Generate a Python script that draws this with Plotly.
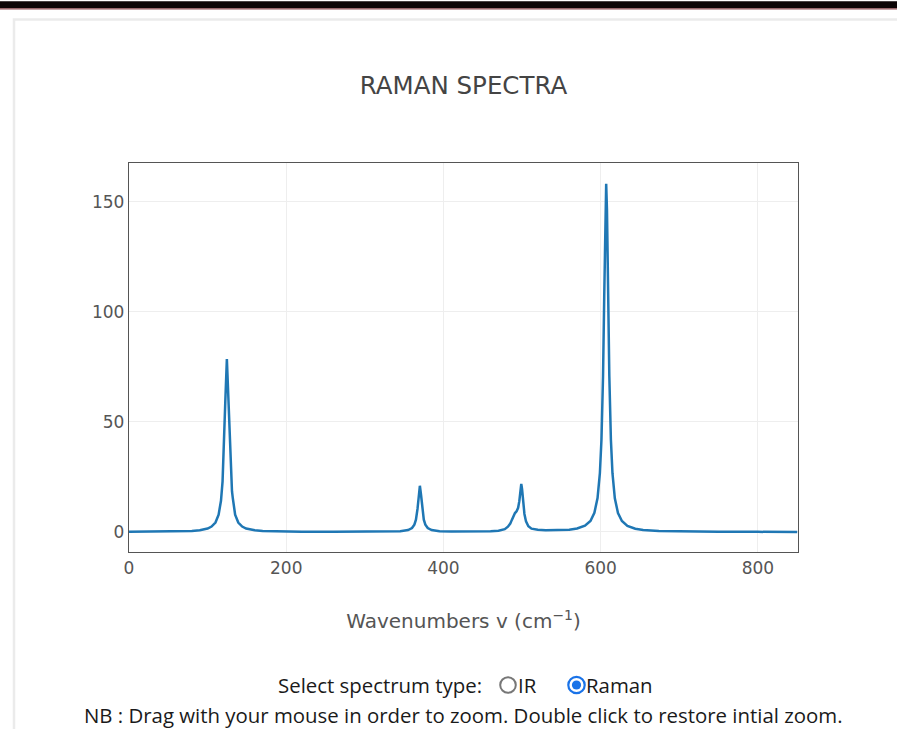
import plotly.graph_objects as go

# Raman spectrum: wavenumber (cm^-1) and intensity
wavenumbers = [
    0, 20, 40, 60, 80, 90, 100, 105, 110, 114, 117, 119, 121, 122.5, 124.5,
    126.5, 128, 130, 131, 132, 133.5, 135, 139, 144, 149, 160, 170, 190, 220,
    260, 300, 330, 345, 355, 360, 363, 365, 367, 368.5, 370, 371.5, 373, 375,
    377, 380, 385, 395, 410, 440, 460, 470, 478, 482, 485, 487, 489, 491, 493,
    495, 496.5, 498, 499, 500, 501.5, 503, 505, 508, 512, 520, 530, 540, 560,
    570, 580, 587, 592, 596, 599, 601, 603, 604.5, 606, 607, 608, 609.5, 611,
    613, 615, 618, 622, 627, 634, 644, 654, 674, 700, 750, 800, 850,
]
intensity = [
    0.05, 0.08, 0.13, 0.23, 0.49, 0.8, 1.57, 2.46, 4.3, 7.9, 14.2, 22.9, 39.3, 59.3, 78.6,
    59.3, 39.3, 22.9, 18.5, 15.5, 11.0, 7.9, 4.3, 2.46, 1.57, 0.8, 0.48, 0.24, 0.12,
    0.07, 0.07, 0.15, 0.33, 0.85, 1.77, 3.3, 5.6, 10.5, 16.8, 21.0, 16.8, 10.5, 5.6,
    3.3, 1.78, 0.86, 0.36, 0.2, 0.2, 0.32, 0.6, 1.3, 2.4, 3.8, 5.5, 7.3, 8.6, 9.4,
    11.0, 14.0, 19.6, 21.8, 19.5, 13.0, 8.2, 4.8, 2.6, 1.5, 1.0, 0.75, 0.75, 1.05,
    1.56, 2.85, 5.0, 8.7, 15.4, 26.8, 42.0, 70.9, 106.8, 146.6, 158.3, 146.6, 106.8, 70.8,
    41.9, 26.7, 15.3, 8.6, 5.0, 2.8, 1.5, 0.95, 0.47, 0.24, 0.1, 0.05, 0.03,
]
x_ticks = [0, 200, 400, 600, 800]
y_ticks = [0, 50, 100, 150]

W, H = 897, 729
L, R, T, B = 129, 798, 163, 552  # plot area in pixels


def px_x(p):
    return (p - L) / (R - L)


def px_y(p):
    return (B - p) / (B - T)


fig = go.Figure(
    go.Scatter(
        x=wavenumbers,
        y=intensity,
        mode="lines",
        line=dict(color="#1f77b4", width=2.5),
        hoverinfo="x+y",
    )
)

axis_common = dict(
    showline=True,
    mirror=True,
    linecolor="#555555",
    linewidth=1.4,
    showgrid=True,
    gridcolor="#eeeeee",
    gridwidth=1,
    zeroline=False,
    ticks="",
    tickfont=dict(family="DejaVu Sans", size=17, color="#555555"),
)

fig.update_layout(
    width=W,
    height=H,
    margin=dict(l=L, r=W - R, t=T, b=H - B, autoexpand=False),
    paper_bgcolor="white",
    plot_bgcolor="white",
    showlegend=False,
    title=dict(
        text="RAMAN SPECTRA",
        x=0.5,
        xanchor="center",
        xref="paper",
        y=1 - 85 / H,
        yref="container",
        yanchor="middle",
        font=dict(family="DejaVu Sans", size=24.5, color="#444444"),
    ),
    xaxis=dict(
        axis_common,
        range=[0, 851],
        tickvals=x_ticks,
        title=dict(
            text="Wavenumbers v (cm<sup>−1</sup>)",
            font=dict(family="DejaVu Sans", size=20, color="#555555"),
            standoff=37,
        ),
    ),
    yaxis=dict(axis_common, range=[-9.1, 167.7], tickvals=y_ticks),
)

shapes = [
    # page card outline
    dict(type="rect", xref="paper", yref="paper", layer="below",
         x0=px_x(14), x1=px_x(920), y0=px_y(19.5), y1=px_y(760),
         line=dict(color="#ebebeb", width=2.5), fillcolor="rgba(0,0,0,0)"),
    # top header bar
    dict(type="rect", xref="paper", yref="paper",
         x0=px_x(-5), x1=px_x(905), y0=px_y(1.3), y1=px_y(8.3),
         line=dict(width=0), fillcolor="#0b0506"),
    dict(type="rect", xref="paper", yref="paper",
         x0=px_x(-5), x1=px_x(905), y0=px_y(8.3), y1=px_y(9.6),
         line=dict(width=0), fillcolor="#8a4a50"),
    # radio buttons
    dict(type="circle", xref="paper", yref="paper",
         xsizemode="pixel", ysizemode="pixel",
         xanchor=px_x(508), yanchor=px_y(685),
         x0=-7.8, x1=7.8, y0=-7.8, y1=7.8,
         line=dict(color="#777777", width=2), fillcolor="white"),
    dict(type="circle", xref="paper", yref="paper",
         xsizemode="pixel", ysizemode="pixel",
         xanchor=px_x(576.5), yanchor=px_y(685),
         x0=-8.2, x1=8.2, y0=-8.2, y1=8.2,
         line=dict(color="#1a73e8", width=2.2), fillcolor="white"),
    dict(type="circle", xref="paper", yref="paper",
         xsizemode="pixel", ysizemode="pixel",
         xanchor=px_x(576.5), yanchor=px_y(685),
         x0=-4.6, x1=4.6, y0=-4.6, y1=4.6,
         line=dict(width=0), fillcolor="#1a73e8"),
]
fig.update_layout(shapes=shapes)

text_font = dict(family="Open Sans", size=20.4, color="#1a1a1a")
annotations = [
    dict(text="Select spectrum type:", x=px_x(483), y=px_y(685),
         xanchor="right", yanchor="middle"),
    dict(text="IR", x=px_x(517), y=px_y(685), xanchor="left", yanchor="middle"),
    dict(text="Raman", x=px_x(585), y=px_y(685), xanchor="left", yanchor="middle"),
    dict(text="NB : Drag with your mouse in order to zoom. Double click to restore intial zoom.",
         x=px_x(463.5), y=px_y(715), xanchor="center", yanchor="middle"),
]
for a in annotations:
    a.update(xref="paper", yref="paper", showarrow=False, font=text_font, borderpad=0)
fig.update_layout(annotations=annotations)

fig.write_html("out.html")
